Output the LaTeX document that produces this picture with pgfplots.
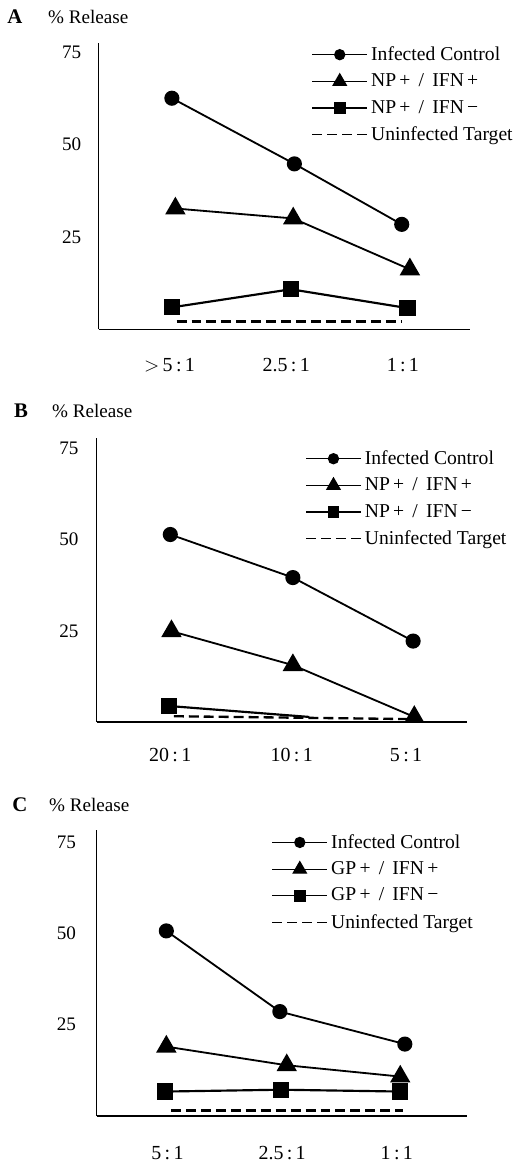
\documentclass[border=0pt]{standalone}
\usepackage{fontspec}
\setmainfont{Liberation Serif}
\usepackage{pgfplots}
\pgfplotsset{compat=1.18}

\def\u{0.6pt}

\pgfplotsset{
  panel/.style={
    scale only axis,
    axis lines=left,
    axis line style={-, line width=0.7pt},
    ymin=0,
    ytick={25,50,75},
    xtick={0,1,2},
    major tick length=0pt,
    yticklabel style={font=\fontsize{11.5}{13}\selectfont},
    xticklabel style={font=\fontsize{12}{14}\selectfont},
    /pgf/number format/assume math mode=true,
    clip=false,
    legend cell align=left,
    legend style={draw=none, fill=none, inner sep=0pt, row sep=2.6pt,
      font=\fontsize{11.8}{13}\selectfont, anchor=north west},
    legend image code/.code={
      \draw[mark repeat=2, mark phase=2, #1, line width=0.8pt,
        every mark/.append style={scale=0.75}]
        plot coordinates {(0pt,0pt) (16.5pt,0pt) (33pt,0pt)};
    },
  },
  ctrl/.style={black, line width=1.1pt, mark=*, mark size=4pt},
  tri/.style={black, line width=1.1pt, mark=triangle*, mark size=6pt},
  sq/.style={black, line width=1.3pt, mark=square*, mark size=4.2pt},
  unin/.style={black, line width=1.4pt, dash pattern=on 6pt off 3pt},
}

\begin{document}
\begin{tikzpicture}
  \path (0,0) rectangle (525*\u,-1165*\u);

  % panel A
  \node[font=\bfseries\fontsize{12.5}{14}\selectfont] at (15*\u,-17*\u) {A};
  \node[anchor=west, font=\fontsize{11.5}{13}\selectfont, inner sep=0pt] at (48*\u,-17*\u) {\% Release};
  \begin{axis}[panel,
    at={(59.4pt,-198pt)}, anchor=south west,
    width=223.2pt, height=172.2pt,
    xmin=-0.607, xmax=2.573, ymax=77.6,
    xticklabels={{$>$\,5\,:\,1},{2.5\,:\,1},{1\,:\,1}},
    yticklabel style={xshift=-7pt},
    xticklabel style={yshift=-14pt},
    legend style={at={(0.573,1.0)}},
  ]
    \addplot[ctrl] coordinates {(0.02,62.6) (1.07,44.8) (1.99,28.4)};
    \addlegendentry{Infected Control}
    \addplot[tri] coordinates {(0.05,32.7) (1.06,30.0) (2.06,16.2)};
    \addlegendentry{NP\,+ \,/\, IFN\,+}
    \addplot[sq] coordinates {(0.02,5.9) (1.04,10.8) (2.04,5.7)};
    \addlegendentry{NP\,+ \,/\, IFN\,−}
    \addplot[unin] coordinates {(0.06,2.1) (1.99,2.1)};
    \addlegendentry{Uninfected Target}
  \end{axis}

  % panel B
  \node[font=\bfseries\fontsize{12.5}{14}\selectfont] at (21*\u,-412*\u) {B};
  \node[anchor=west, font=\fontsize{11.5}{13}\selectfont, inner sep=0pt] at (52*\u,-412*\u) {\% Release};
  \begin{axis}[panel,
    at={(58.2pt,-434.4pt)}, anchor=south west,
    width=222.6pt, height=171pt,
    xmin=-0.624, xmax=2.515, ymax=77.9,
    xtick={0,1.03,2},
    xticklabels={{20\,:\,1},{10\,:\,1},{5\,:\,1}},
    yticklabel style={xshift=-7.5pt},
    xticklabel style={yshift=-12.5pt},
    legend style={at={(0.563,0.968)}},
  ]
    \addplot[ctrl] coordinates {(0,51.4) (1.04,39.6) (2.06,22.2)};
    \addlegendentry{Infected Control}
    \addplot[tri] coordinates {(0.01,24.9) (1.04,15.6) (2.07,1.4)};
    \addlegendentry{NP\,+ \,/\, IFN\,+}
    \addlegendimage{sq}
    \addlegendentry{NP\,+ \,/\, IFN\,−}
    \addplot[unin] coordinates {(0.03,1.6) (2.08,0.8)};
    \addlegendentry{Uninfected Target}
    \addplot[sq, mark indices={1}, forget plot] coordinates {(-0.01,4.4) (1.18,1.4)};
  \end{axis}

  % panel C
  \node[font=\bfseries\fontsize{12.5}{14}\selectfont] at (20*\u,-807*\u) {C};
  \node[anchor=west, font=\fontsize{11.5}{13}\selectfont, inner sep=0pt] at (49*\u,-807*\u) {\% Release};
  \begin{axis}[panel,
    at={(58.2pt,-671.4pt)}, anchor=south west,
    width=222.6pt, height=172.2pt,
    xmin=-0.617, xmax=2.61, ymax=78.4,
    xtick={0,1,2},
    xticklabels={{5\,:\,1},{2.5\,:\,1},{1\,:\,1}},
    yticklabel style={xshift=-9pt},
    xticklabel style={yshift=-14.5pt},
    legend style={at={(0.472,0.997)}},
  ]
    \addplot[ctrl] coordinates {(-0.01,50.7) (0.98,28.6) (2.07,19.7)};
    \addlegendentry{Infected Control}
    \addplot[tri] coordinates {(-0.01,19.0) (1.04,13.9) (2.03,10.8)};
    \addlegendentry{GP\,+ \,/\, IFN\,+}
    \addplot[sq] coordinates {(-0.02,6.7) (0.99,7.2) (2.03,6.7)};
    \addlegendentry{GP\,+ \,/\, IFN\,−}
    \addplot[unin] coordinates {(0.03,1.5) (2.05,1.5)};
    \addlegendentry{Uninfected Target}
  \end{axis}
\end{tikzpicture}
\end{document}
